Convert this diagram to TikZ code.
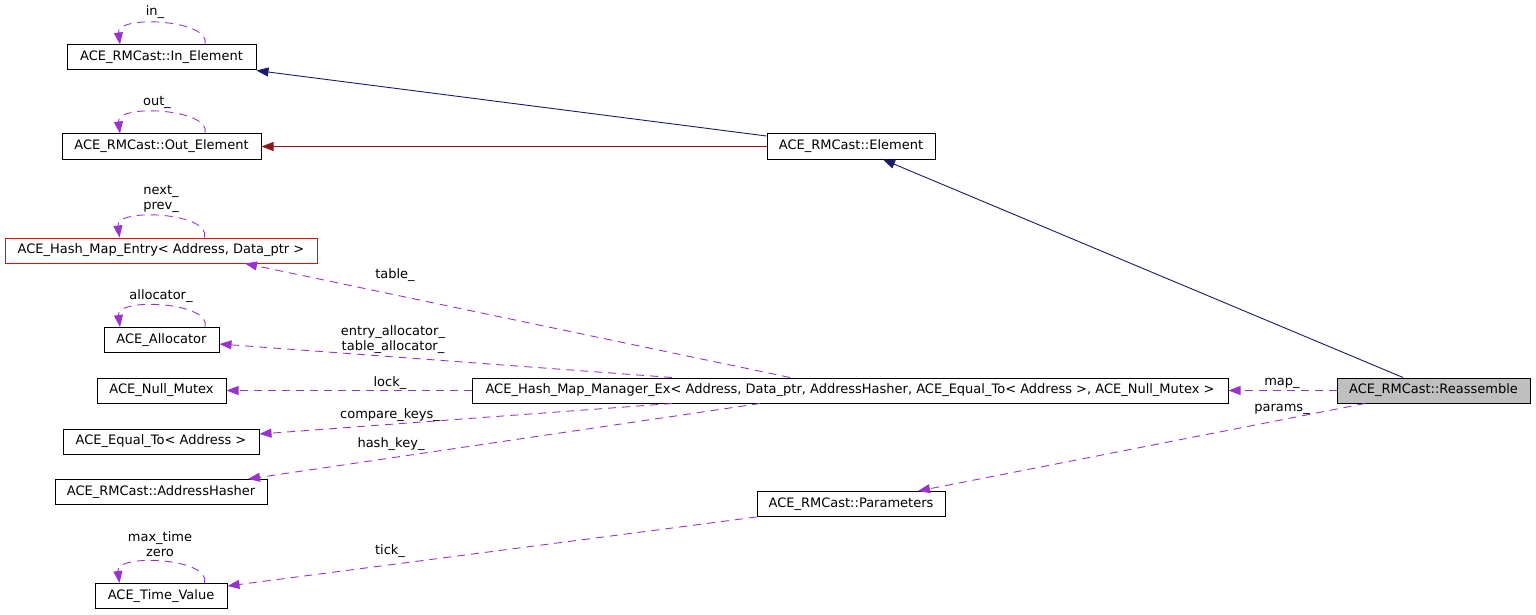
\documentclass[tikz,border=0pt]{standalone}
\usepackage{fontspec}
\setmainfont{DejaVu Sans}
\usetikzlibrary{arrows.meta}
\definecolor{pubinh}{HTML}{191970}
\definecolor{privinh}{HTML}{8B1A1A}
\definecolor{usage}{HTML}{9A32CD}
\tikzset{
  cls/.style={draw, line width=1pt, minimum height=25pt, inner sep=0pt, font=\fontsize{13}{15}\selectfont},
  lbl/.style={inner sep=0pt, align=center, font=\fontsize{13}{15}\selectfont},
  pub/.style={draw=pubinh, line width=0.9pt, -{Triangle[length=12pt,width=9pt]}},
  priv/.style={draw=privinh, line width=0.9pt, -{Triangle[length=12pt,width=9pt]}},
  use/.style={draw=usage, line width=0.9pt, dash pattern=on 8pt off 6pt, -{Triangle[length=12pt,width=9pt]}}
}

\begin{document}
\begin{tikzpicture}[x=1pt,y=1pt]
      \useasboundingbox (0,0) rectangle (1536,-615);
      % classes
      \node[cls, minimum width=189pt] (inelem) at (161.5,-57.5) {ACE\_RMCast::In\_Element};
      \node[cls, minimum width=199pt] (outelem) at (161.5,-146.5) {ACE\_RMCast::Out\_Element};
      \node[cls, minimum width=312pt, draw=red] (entry) at (161,-250.5) {ACE\_Hash\_Map\_Entry< Address, Data\_ptr >};
      \node[cls, minimum width=115pt] (alloc) at (161.5,-340) {ACE\_Allocator};
      \node[cls, minimum width=129pt] (nullmutex) at (161.5,-390.5) {ACE\_Null\_Mutex};
      \node[cls, minimum width=196pt] (equalto) at (161,-441.5) {ACE\_Equal\_To< Address >};
      \node[cls, minimum width=212pt] (hasher) at (161,-492) {ACE\_RMCast::AddressHasher};
      \node[cls, minimum width=132pt] (timev) at (161,-596) {ACE\_Time\_Value};
      \node[cls, minimum width=168pt] (elem) at (851,-146.5) {ACE\_RMCast::Element};
      \node[cls, minimum width=756pt] (hashmap) at (850,-390.5) {ACE\_Hash\_Map\_Manager\_Ex< Address, Data\_ptr, AddressHasher, ACE\_Equal\_To< Address >, ACE\_Null\_Mutex >};
      \node[cls, minimum width=188pt] (params) at (851,-504) {ACE\_RMCast::Parameters};
      \node[cls, minimum width=193pt, fill=black!25] (reasm) at (1433.5,-390.5) {ACE\_RMCast::Reassemble};

      % self references
      \foreach \n in {inelem,outelem,entry,alloc,timev}
         \draw[use] ([xshift=43.5pt]\n.north) .. controls +(7,25) and +(-4,30) .. ([xshift=-41.5pt]\n.north);
      \node[lbl] (inlbl) at (155,-12) {in\_};
      \node[lbl] (outlbl) at (157,-102) {out\_};
      \node[lbl] (nextlbl) at (161,-199) {next\_\\prev\_};
      \node[lbl] (alloclbl) at (161,-296) {allocator\_};
      \node[lbl] (timelbl) at (160,-544.5) {max\_time\\zero};

      % inheritance
      \draw[pub] ([yshift=10.5pt]elem.west) -- (inelem.south east);
      \draw[priv] (elem.west) -- (outelem.east);
      \draw[pub] ([xshift=-30.5pt]reasm.north) -- ([xshift=32pt]elem.south);

      % members
      \draw[use] ([xshift=-60pt]hashmap.north) -- ([xshift=84pt]entry.south);
      \draw[use] ([xshift=-178pt]hashmap.north) -- ([yshift=-4pt]alloc.east);
      \draw[use] (hashmap.west) -- (nullmutex.east);
      \draw[use] ([xshift=-178pt]hashmap.south) -- ([yshift=7.5pt]equalto.east);
      \draw[use] ([xshift=-90pt]hashmap.south) -- ([xshift=87pt]hasher.north);
      \draw[use] (reasm.west) -- (hashmap.east);
      \draw[use] ([xshift=-68.5pt]reasm.south) -- ([xshift=67pt]params.north);
      \draw[use] (params.south west) -- ([yshift=10pt]timev.east);
      \node[lbl] (tablelbl) at (395,-275) {table\_};
      \node[lbl] (entrylbl) at (393,-339.5) {entry\_allocator\_\\table\_allocator\_};
      \node[lbl] (locklbl) at (390,-383) {lock\_};
      \node[lbl] (cmplbl) at (390,-415) {compare\_keys\_};
      \node[lbl] (hashlbl) at (391,-444) {hash\_key\_};
      \node[lbl] (ticklbl) at (390,-551) {tick\_};
      \node[lbl] (maplbl) at (1282,-383) {map\_};
      \node[lbl] (paramlbl) at (1282,-409) {params\_};
   \end{tikzpicture}
\end{document}
